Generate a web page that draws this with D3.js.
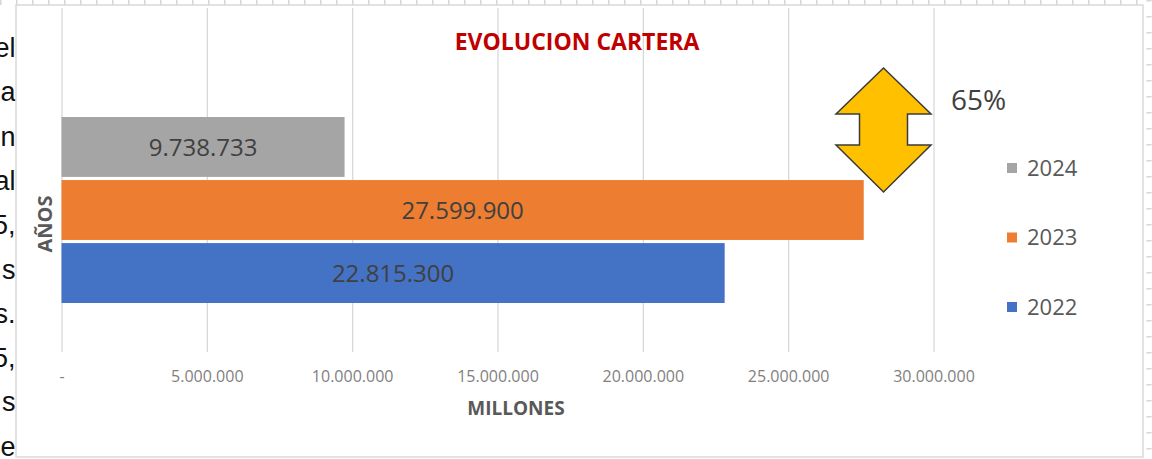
<!DOCTYPE html>
<html lang="es">

<head>
    <meta charset="UTF-8">
    <title>Evolucion cartera</title>
    <script src="https://d3js.org/d3.v7.min.js"></script>
    <style>
        body {
            margin: 0;
            background: #ffffff;
        }

        svg text {
            font-family: "Open Sans", "DejaVu Sans", sans-serif;
        }
    </style>
</head>

<body>
    <svg id="chart" width="1152" height="459"></svg>

    <script>
        // datos del grafico
        const years = ["2024", "2023", "2022"];
        const cartera = [9738733, 27599900, 22815300];
        const colors = ["#A5A5A5", "#ED7D31", "#4472C4"];
        const ticks = [0, 5000000, 10000000, 15000000, 20000000, 25000000, 30000000];
        const legendOrder = ["2024", "2023", "2022"];
        const variacion = "65%";
        // restos del texto del documento que queda detras del grafico
        const docText = ["el", "a", "n", "al", "5,", "s", "s.", "5,", "s", "e"];

        const W = 1152, H = 459;
        const svg = d3.select("#chart");

        const es = d3.formatLocale({ decimal: ",", thousands: ".", grouping: [3], currency: ["", ""] });
        const fmt = es.format(",d");

        // texto del documento (se ve cortado a la izquierda)
        svg.append("g").selectAll("text")
            .data(docText)
            .enter()
            .append("text")
            .attr("x", 15.5)
            .attr("y", (_, i) => 57 + i * 44.3)
            .attr("text-anchor", "end")
            .style("font-family", "'Liberation Sans', Arial, sans-serif")
            .style("font-size", "27px")
            .attr("fill", "#111")
            .text(d => d);

        // borde punteado de seleccion
        svg.append("line")
            .attr("x1", 0).attr("x2", W).attr("y1", 2.5).attr("y2", 2.5)
            .attr("stroke", "#d6d6d6").attr("stroke-width", 5)
            .attr("stroke-dasharray", "1.5,14.5");
        svg.append("line")
            .attr("x1", 1149).attr("x2", 1149).attr("y1", 0).attr("y2", H)
            .attr("stroke", "#d6d6d6").attr("stroke-width", 5)
            .attr("stroke-dasharray", "1.5,14.5");

        // area del grafico
        svg.append("rect")
            .attr("x", 16).attr("y", 5)
            .attr("width", 1127).attr("height", 452)
            .attr("fill", "#ffffff")
            .attr("stroke", "#d9d9d9")
            .attr("stroke-width", 1.5);

        const x = d3.scaleLinear()
            .domain([0, 30000000])
            .range([61.5, 933.5]);

        const y = d3.scaleBand()
            .domain(years)
            .range([117, 303])
            .paddingInner(0.05);

        const plotTop = 8, plotBottom = 352;

        // eje x con lineas de division
        const xAxis = d3.axisBottom(x)
            .tickValues(ticks)
            .tickSizeInner(-(plotBottom - plotTop))
            .tickSizeOuter(0)
            .tickPadding(0)
            .tickFormat(d => d === 0 ? "-" : fmt(d));

        const gx = svg.append("g")
            .attr("transform", `translate(0,${plotBottom})`)
            .call(xAxis);
        gx.select(".domain").remove();
        gx.selectAll(".tick line")
            .attr("stroke", "#d9d9d9")
            .attr("stroke-width", 1.3);
        gx.selectAll(".tick text")
            .attr("y", 30)
            .attr("dy", null)
            .attr("fill", "#7f7f7f")
            .style("font-size", "16px");

        // barras
        const bars = svg.append("g");
        bars.selectAll("rect")
            .data(years)
            .enter()
            .append("rect")
            .attr("x", x(0))
            .attr("y", d => y(d))
            .attr("width", (d, i) => x(cartera[i]) - x(0))
            .attr("height", y.bandwidth())
            .attr("fill", (d, i) => colors[i]);

        bars.selectAll("text")
            .data(years)
            .enter()
            .append("text")
            .attr("x", (d, i) => (x(0) + x(cartera[i])) / 2)
            .attr("y", d => y(d) + y.bandwidth() / 2)
            .attr("dy", "0.36em")
            .attr("text-anchor", "middle")
            .attr("fill", "#404040")
            .style("font-size", "24px")
            .text((d, i) => fmt(cartera[i]));

        // titulo
        svg.append("text")
            .attr("x", 577).attr("y", 50)
            .attr("text-anchor", "middle")
            .attr("fill", "#C00000")
            .style("font-size", "23px")
            .style("font-weight", "bold")
            .text("EVOLUCION CARTERA");

        // titulos de ejes
        svg.append("text")
            .attr("x", 516).attr("y", 415)
            .attr("text-anchor", "middle")
            .attr("fill", "#595959")
            .style("font-size", "19px")
            .style("font-weight", "bold")
            .text("MILLONES");

        svg.append("text")
            .attr("transform", "translate(52,224) rotate(-90)")
            .attr("text-anchor", "middle")
            .attr("fill", "#595959")
            .style("font-size", "20px")
            .style("font-weight", "bold")
            .text("AÑOS");

        // leyenda
        const legendY = d3.scalePoint()
            .domain(legendOrder)
            .range([168, 307]);

        const legend = svg.append("g").selectAll("g")
            .data(legendOrder)
            .enter()
            .append("g")
            .attr("transform", d => `translate(1007,${legendY(d)})`);
        legend.append("rect")
            .attr("x", 0).attr("y", -5)
            .attr("width", 10).attr("height", 10)
            .attr("fill", d => colors[years.indexOf(d)]);
        legend.append("text")
            .attr("x", 20)
            .attr("dy", "0.36em")
            .attr("fill", "#595959")
            .style("font-size", "22px")
            .text(d => d);

        // flecha doble con la variacion
        const arrowX = 883.5, arrowTop = 68, arrowBottom = 192;
        const arrowPts = [
            [arrowX, arrowTop], [arrowX + 47.5, 114], [arrowX + 24, 114], [arrowX + 24, 145],
            [arrowX + 47.5, 145], [arrowX, arrowBottom], [arrowX - 47.5, 145], [arrowX - 24, 145],
            [arrowX - 24, 114], [arrowX - 47.5, 114]
        ];
        svg.append("path")
            .attr("d", d3.line()(arrowPts) + "Z")
            .attr("fill", "#FFC000")
            .attr("stroke", "#3b3b3b")
            .attr("stroke-width", 1.5)
            .attr("stroke-linejoin", "miter");

        svg.append("text")
            .attr("x", 951).attr("y", 110)
            .attr("fill", "#404040")
            .style("font-size", "28px")
            .text(variacion);
    </script>
</body>

</html>
